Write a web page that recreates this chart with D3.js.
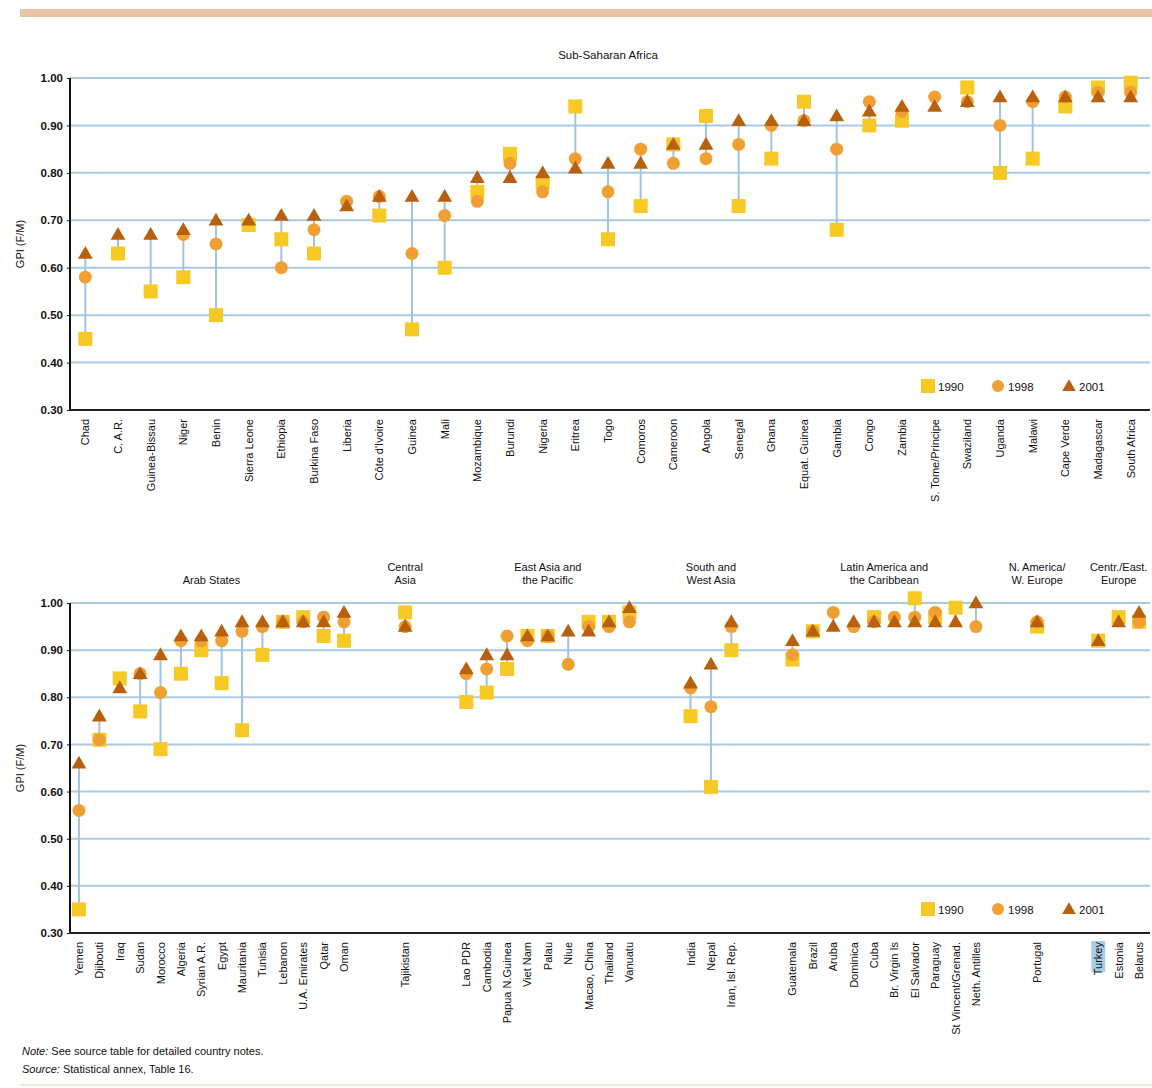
<!DOCTYPE html>
<html><head><meta charset="utf-8">
<script src="https://cdn.jsdelivr.net/npm/d3@7"></script>
<style>
body{margin:0;background:#fff;}
svg text{font-family:"Liberation Sans Narrow","Arial Narrow","Liberation Sans",sans-serif;fill:#111;}
</style></head>
<body>
<svg id="c" width="1152" height="1088"></svg>
<script>
// ---------- DATA ----------
const topTitle = "Sub-Saharan Africa";
const topCountries = ["Chad","C. A.R.","Guinea-Bissau","Niger","Benin","Sierra Leone","Ethiopia","Burkina Faso","Liberia","Côte d'Ivoire","Guinea","Mali","Mozambique","Burundi","Nigeria","Eritrea","Togo","Comoros","Cameroon","Angola","Senegal","Ghana","Equat. Guinea","Gambia","Congo","Zambia","S. Tome/Principe","Swaziland","Uganda","Malawi","Cape Verde","Madagascar","South Africa"];
const top1990 = [0.45,0.63,0.55,0.58,0.50,0.69,0.66,0.63,null,0.71,0.47,0.60,0.76,0.84,0.78,0.94,0.66,0.73,0.86,0.92,0.73,0.83,0.95,0.68,0.90,0.91,null,0.98,0.80,0.83,0.94,0.98,0.99];
const top1998 = [0.58,null,null,0.67,0.65,null,0.60,0.68,0.74,0.75,0.63,0.71,0.74,0.82,0.76,0.83,0.76,0.85,0.82,0.83,0.86,0.90,0.91,0.85,0.95,0.93,0.96,0.95,0.90,0.95,0.96,0.97,0.97];
const top2001 = [0.63,0.67,0.67,0.68,0.70,0.70,0.71,0.71,0.73,0.75,0.75,0.75,0.79,0.79,0.80,0.81,0.82,0.82,0.86,0.86,0.91,0.91,0.91,0.92,0.93,0.94,0.94,0.95,0.96,0.96,0.96,0.96,0.96];

const bottomGroupNames = [["Arab States"],["Central","Asia"],["East Asia and","the Pacific"],["South and","West Asia"],["Latin America and","the Caribbean"],["N. America/","W. Europe"],["Centr./East.","Europe"]];
const bottomGroupSizes = [14,1,9,3,10,1,3];
const bottomCountries = ["Yemen","Djibouti","Iraq","Sudan","Morocco","Algeria","Syrian A.R.","Egypt","Mauritania","Tunisia","Lebanon","U.A. Emirates","Qatar","Oman",
  "Tajikistan",
  "Lao PDR","Cambodia","Papua N.Guinea","Viet Nam","Palau","Niue","Macao, China","Thailand","Vanuatu",
  "India","Nepal","Iran, Isl. Rep.",
  "Guatemala","Brazil","Aruba","Dominica","Cuba","Br. Virgin Is","El Salvador","Paraguay","St Vincent/Grenad.","Neth. Antilles",
  "Portugal",
  "Turkey","Estonia","Belarus"];
const bottom1990 = [0.35,0.71,0.84,0.77,0.69,0.85,0.90,0.83,0.73,0.89,0.96,0.97,0.93,0.92,
  0.98,
  0.79,0.81,0.86,0.93,0.93,null,0.96,0.96,0.98,
  0.76,0.61,0.90,
  0.88,0.94,null,null,0.97,null,1.01,0.97,0.99,null,
  0.95,
  0.92,0.97,0.96];
const bottom1998 = [0.56,0.71,null,0.85,0.81,0.92,0.92,0.92,0.94,0.95,0.96,0.96,0.97,0.96,
  0.95,
  0.85,0.86,0.93,0.92,0.93,0.87,0.95,0.95,0.96,
  0.82,0.78,0.95,
  0.89,0.94,0.98,0.95,0.96,0.97,0.97,0.98,null,0.95,
  0.96,
  null,null,0.96];
const bottom2001 = [0.66,0.76,0.82,0.85,0.89,0.93,0.93,0.94,0.96,0.96,0.96,0.96,0.96,0.98,
  0.95,
  0.86,0.89,0.89,0.93,0.93,0.94,0.94,0.96,0.99,
  0.83,0.87,0.96,
  0.92,0.94,0.95,0.96,0.96,0.96,0.96,0.96,0.96,1.00,
  0.96,
  0.92,0.96,0.98];

const yTicks = [0.30,0.40,0.50,0.60,0.70,0.80,0.90,1.00];
const seriesNames = ["1990","1998","2001"];
const seriesColors = ["#f6c925","#f0a033","#b8600e"];
const yLabel = "GPI (F/M)";
const noteLines = [["Note:"," See source table for detailed country notes."],["Source:"," Statistical annex, Table 16."]];

// ---------- DRAW ----------
const svg = d3.select("#c");
const gridColor = "#a9cae3", stemColor = "#9fc4e0";
const xLeft = 70, xRight = 1148;

// header bar
svg.append("rect").attr("x",20).attr("y",9).attr("width",1132).attr("height",8).attr("fill","#e8c6a6");
// bottom rule
svg.append("rect").attr("x",20).attr("y",1084).attr("width",1132).attr("height",2).attr("fill","#f1e6dc");

function drawPanel(cfg){
  const y = d3.scaleLinear().domain([0.30,1.00]).range([cfg.y0, cfg.y1]);
  const g = svg.append("g");
  // gridlines
  g.selectAll("line.grid").data(yTicks.slice(1)).join("line")
    .attr("x1",xLeft).attr("x2",1150).attr("y1",d=>y(d)).attr("y2",d=>y(d))
    .attr("stroke",gridColor).attr("stroke-width",2);
  // y axis
  const ax = g.append("g").attr("transform",`translate(${xLeft},0)`)
    .call(d3.axisLeft(y).tickValues(yTicks).tickFormat(d3.format(".2f")).tickSize(3).tickPadding(4));
  ax.select(".domain").remove();
  ax.selectAll("text").style("font-size","11.5px").style("font-weight","bold").attr("fill","#111");
  ax.selectAll("line").attr("stroke","#111");
  g.append("line").attr("x1",xLeft).attr("x2",xLeft).attr("y1",y(1.0)).attr("y2",y(0.30)+1).attr("stroke","#111").attr("stroke-width",2);
  g.append("line").attr("x1",xLeft-1).attr("x2",1150).attr("y1",y(0.30)).attr("y2",y(0.30)).attr("stroke","#222").attr("stroke-width",2.2);
  // y label
  g.append("text").attr("transform",`translate(24,${(cfg.y0+cfg.y1)/2}) rotate(-90)`)
    .attr("text-anchor","middle").style("font-size","11px").text(yLabel);

  const rows = cfg.countries.map((c,i)=>({c, x:cfg.xpos(i), v:[cfg.s0[i],cfg.s1[i],cfg.s2[i]]}));
  // stems
  g.selectAll("line.stem").data(rows.filter(r=>r.v.filter(v=>v!=null).length>1)).join("line")
    .attr("x1",d=>d.x).attr("x2",d=>d.x)
    .attr("y1",d=>y(d3.max(d.v))).attr("y2",d=>y(d3.min(d.v)))
    .attr("stroke",stemColor).attr("stroke-width",2);
  const sq = 14, circ = 6.5;
  const triPath = d3.symbol(d3.symbolTriangle, 95)();
  g.selectAll("rect.s90").data(rows.filter(r=>r.v[0]!=null)).join("rect")
    .attr("x",d=>d.x-sq/2).attr("y",d=>y(d.v[0])-sq/2).attr("width",sq).attr("height",sq).attr("fill",seriesColors[0]);
  g.selectAll("circle.s98").data(rows.filter(r=>r.v[1]!=null)).join("circle")
    .attr("cx",d=>d.x).attr("cy",d=>y(d.v[1])).attr("r",circ).attr("fill",seriesColors[1]);
  g.selectAll("path.s01").data(rows.filter(r=>r.v[2]!=null)).join("path")
    .attr("d",triPath).attr("transform",d=>`translate(${d.x},${y(d.v[2])+1})`).attr("fill",seriesColors[2]);
  // x labels
  const lab = g.selectAll("g.xl").data(rows).join("g").attr("transform",d=>`translate(${d.x+4},${y(0.30)+9}) rotate(-90)`);
  if(cfg.highlight){
    lab.filter(d=>d.c===cfg.highlight).append("rect").attr("x",-30).attr("y",-11).attr("width",31).attr("height",14).attr("fill","#a8cde8");
  }
  lab.append("text").attr("text-anchor","end").style("font-size","11px").text(d=>d.c);
  // legend
  const ly = y(0.30)-24;
  const lx = [928,998,1069];
  g.append("rect").attr("x",lx[0]-7).attr("y",ly-7).attr("width",14).attr("height",14).attr("fill",seriesColors[0]);
  g.append("circle").attr("cx",lx[1]).attr("cy",ly).attr("r",6).attr("fill",seriesColors[1]);
  g.append("path").attr("d",d3.symbol(d3.symbolTriangle,80)()).attr("transform",`translate(${lx[2]},${ly+1})`).attr("fill",seriesColors[2]);
  seriesNames.forEach((s,i)=>g.append("text").attr("x",lx[i]+10).attr("y",ly+4.5).style("font-size","11.5px").text(s));
  return y;
}

// top panel
const xTop = d3.scalePoint().domain(d3.range(topCountries.length)).range([69,1147]).padding(0.5);
drawPanel({y0:410,y1:78,countries:topCountries,s0:top1990,s1:top1998,s2:top2001,xpos:i=>xTop(i)});
svg.append("text").attr("x",608).attr("y",59).attr("text-anchor","middle").style("font-size","11.5px").text(topTitle);

// bottom panel: slots with 2-slot gaps between groups
const slotIdx = []; const groupRanges = [];
let s = 0;
bottomGroupSizes.forEach((n,gi)=>{
  const start = s;
  for(let k=0;k<n;k++){ slotIdx.push(s); s++; }
  groupRanges.push([start, s - 1]);
  s += 2;
});
const nSlots = s - 2;
const xBot = d3.scalePoint().domain(d3.range(nSlots)).range([xLeft,xRight]).padding(0.44);
drawPanel({y0:933,y1:603,countries:bottomCountries,s0:bottom1990,s1:bottom1998,s2:bottom2001,xpos:i=>xBot(slotIdx[i]),highlight:"Turkey"});
bottomGroupNames.forEach((lines,gi)=>{
  const cx = (xBot(groupRanges[gi][0]) + xBot(groupRanges[gi][1]))/2;
  const t = svg.append("text").attr("text-anchor","middle").style("font-size","11px")
    .attr("x",cx).attr("y",584 - (lines.length-1)*13);
  lines.forEach((l,li)=>t.append("tspan").attr("x",cx).attr("dy",li?13:0).text(l));
});

// notes
noteLines.forEach((nl,i)=>{
  const t = svg.append("text").attr("x",22).attr("y",1055+i*18).style("font-size","11px");
  t.append("tspan").style("font-style","italic").text(nl[0]);
  t.append("tspan").text(nl[1]);
});
</script>
</body></html>
